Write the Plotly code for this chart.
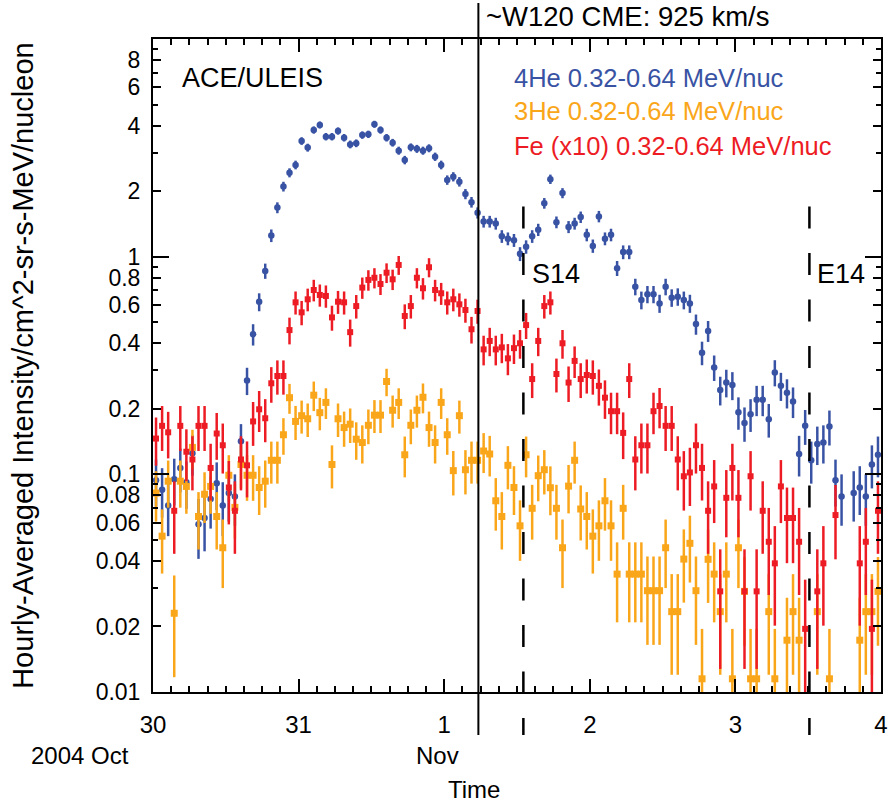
import plotly.graph_objects as go
import pandas as pd

# hourly bins starting 2004-10-30 00:30
times = pd.date_range("2004-10-30 00:30", periods=120, freq="h")

he4 = [0.094, 0.085, 0.072, 0.095, 0.107, 0.092, 0.125, 0.059, 0.063, 0.077,
       0.091, 0.072, 0.082, 0.079, 0.142, 0.27, 0.44, 0.62, 0.86, 1.25,
       1.68, 2.10, 2.43, 2.64, 3.40, 3.17, 3.82, 4.03, 3.56, 3.56,
       3.78, 3.52, 3.28, 3.32, 3.62, 3.65, 4.06, 3.82, 3.52, 3.34,
       3.07, 2.78, 3.18, 3.13, 3.07, 3.15, 2.88, 2.64, 2.25, 2.33,
       2.21, 1.94, 1.78, 1.59, 1.45, 1.45, 1.42, 1.24, 1.21, 1.19,
       1.03, 1.11, 1.24, 1.33, 1.76, 2.27, 1.44, 1.96, 1.37, 1.42,
       1.52, 1.26, 1.12, 1.53, 1.21, 1.26, 0.885, 1.05, 1.05, 0.728,
       0.632, 0.672, 0.672, 0.61, 0.728, 0.648, 0.655, 0.632, 0.61, 0.49,
       0.362, 0.456, 0.31, 0.244, 0.264, 0.257, 0.193, 0.172, 0.189, 0.22,
       0.22, 0.179, 0.294, 0.255, 0.237, 0.216, 0.124, 0.167, 0.116, 0.138,
       0.14, 0.166, 0.094, 0.079, None, 0.082, 0.087, 0.079, 0.111, 0.123]

fe10 = [0.146, 0.167, 0.156, 0.068, 0.167, 0.127, 0.117, 0.167, 0.167, 0.107,
        0.154, 0.136, 0.087, 0.068, 0.117, 0.110, 0.175, 0.199, 0.181, 0.262,
        0.283, 0.283, 0.46, 0.617, 0.555, 0.637, 0.703, 0.667, 0.66, 0.526,
        0.621, 0.617, 0.45, 0.593, 0.721, 0.782, 0.80, 0.749, 0.844, 0.787,
        0.916, 0.534, 0.593, 0.80, 0.716, 0.894, 0.703, 0.679, 0.617, 0.637,
        0.604, 0.569, 0.464, 0.563, 0.375, 0.41, 0.375, 0.383, 0.341, 0.38,
        0.40, 0.485, 0.274, 0.41, 0.593, 0.617, 0.289, 0.40, 0.264, 0.332,
        0.274, 0.286, 0.283, 0.255, 0.225, 0.195, 0.195, 0.155, 0.274, 0.117,
        0.136, 0.136, 0.195, 0.206, 0.167, 0.167, 0.117, 0.098, 0.102, 0.136,
        0.107, 0.068, 0.088, 0.029, 0.078, 0.107, 0.078, 0.029, 0.098, 0.029,
        0.068, 0.049, 0.039, 0.088, 0.063, 0.063, 0.049, 0.0195, None, 0.029,
        0.039, None, 0.065, None, None, None, 0.039, 0.049, 0.0195, 0.068]

he3 = [0.082, 0.052, 0.093, 0.023, 0.093, 0.088, 0.133, 0.064, 0.081, 0.088,
       0.064, 0.046, 0.099, 0.0705, 0.111, 0.099, 0.099, 0.087, 0.093, 0.116,
       0.116, 0.152, 0.225, 0.175, 0.186, 0.18, 0.231, 0.192, 0.214, 0.111,
       0.18, 0.164, 0.17, 0.145, 0.14, 0.168, 0.187, 0.187, 0.267, 0.197,
       0.214, 0.123, 0.168, 0.197, 0.226, 0.164, 0.14, 0.214, 0.152, 0.104,
       0.186, 0.105, 0.116, 0.116, 0.128, 0.124, 0.0756, 0.064, 0.11, 0.087,
       0.058, 0.123, 0.0698, 0.0986, 0.105, 0.0868, 0.0698, 0.046, 0.0883, 0.116,
       0.0693, 0.064, 0.052, 0.058, 0.0756, 0.058, 0.0348, 0.0698, 0.0348, 0.0348,
       0.0348, 0.0292, 0.0292, 0.0292, 0.046, 0.0234, 0.0234, 0.0408, 0.0482, 0.0292,
       0.0115, 0.0407, 0.0348, 0.0234, 0.0348, 0.0115, 0.046, 0.029, 0.0115, 0.0115,
       None, 0.0234, 0.0115, None, 0.0173, 0.0234, 0.0173, None, None, 0.0234,
       None, 0.0115, None, None, None, None, 0.0173, 0.0234, 0.0234, 0.029]

# approximate counts per unit intensity (Poisson error model)
counts_per_unit = {"he4": 180.0, "he3": 180.0, "fe10": 110.0}

x_tickvals = ["2004-10-30", "2004-10-31", "2004-11-01", "2004-11-02", "2004-11-03", "2004-11-04"]
x_ticktext = ["30", "31", "1", "2", "3", "4"]
y_tickvals = [0.01, 0.02, 0.04, 0.06, 0.08, 0.1, 0.2, 0.4, 0.6, 0.8, 1, 2, 4, 6, 8]
y_ticktext = ["0.01", "0.02", "0.04", "0.06", "0.08", "0.1", "0.2", "0.4", "0.6", "0.8", "1", "2", "4", "6", "8"]
y_minor = [0.03, 0.05, 0.07, 0.09, 0.3, 0.5, 0.7, 0.9, 3, 5, 7, 9]
y_decades = [0.01, 0.1, 1, 10]

cme_time = "2004-11-01 05:38"
s14_time = "2004-11-01 13:03"
e14_time = "2004-11-03 12:12"

BLUE = "#3953a4"
ORANGE = "#faa61a"
RED = "#ed1c24"
FONT = "Liberation Sans, Arial, sans-serif"


def errs(vals, k):
    return [0 if v is None else (v / k) ** 0.5 for v in vals]


fig = go.Figure()
fig.add_trace(go.Scatter(
    x=times, y=he4, mode="markers", name="4He",
    marker=dict(symbol="circle", size=6.5, color=BLUE),
    error_y=dict(type="data", array=errs(he4, counts_per_unit["he4"]), color=BLUE, thickness=2.5, width=0),
))
fig.add_trace(go.Scatter(
    x=times, y=he3, mode="markers", name="3He",
    marker=dict(symbol="square", size=7, color=ORANGE),
    error_y=dict(type="data", array=errs(he3, counts_per_unit["he3"]), color=ORANGE, thickness=2.5, width=0),
))
fig.add_trace(go.Scatter(
    x=times, y=fe10, mode="markers", name="Fe",
    marker=dict(symbol="square", size=6, color=RED),
    error_y=dict(type="data", array=errs(fe10, counts_per_unit["fe10"]), color=RED, thickness=2.5, width=0),
))
# invisible trace to anchor decade-tick overlay axis
fig.add_trace(go.Scatter(x=[times[0]], y=[1], yaxis="y2", mode="markers",
                         marker=dict(opacity=0), hoverinfo="skip", showlegend=False))

fig.update_layout(
    width=889, height=806,
    margin=dict(l=153, r=8, t=39, b=114),
    paper_bgcolor="white", plot_bgcolor="white",
    showlegend=False,
    font=dict(family=FONT, size=23, color="black"),
    xaxis=dict(
        type="date", range=["2004-10-30", "2004-11-04"], automargin=False,
        tickmode="array", tickvals=x_tickvals, ticktext=x_ticktext,
        ticks="inside", ticklen=13, tickwidth=2, tickcolor="black",
        showline=True, linewidth=2, linecolor="black", mirror="ticks",
        showgrid=False, zeroline=False, ticklabelstandoff=10,
        tickfont=dict(size=24),
        minor=dict(ticks="inside", ticklen=6, tickwidth=2, tickcolor="black",
                   dtick=3 * 3600 * 1000, tick0="2004-10-30", showgrid=False),
    ),
    yaxis=dict(
        type="log", range=[-2, 1], automargin=False,
        tickmode="array", tickvals=y_tickvals, ticktext=y_ticktext,
        ticks="inside", ticklen=8, tickwidth=2, tickcolor="black",
        showline=True, linewidth=2, linecolor="black", mirror="ticks",
        showgrid=False, zeroline=False, ticklabelstandoff=6,
        tickfont=dict(size=23),
        minor=dict(ticks="inside", ticklen=5, tickwidth=2, tickcolor="black",
                   tickmode="array", tickvals=y_minor, showgrid=False),
    ),
    yaxis2=dict(
        type="log", range=[-2, 1], overlaying="y", side="left", automargin=False,
        tickmode="array", tickvals=y_decades, showticklabels=False,
        ticks="inside", ticklen=16, tickwidth=2, tickcolor="black",
        showline=False, mirror="ticks", showgrid=False, zeroline=False,
    ),
)

# vertical event lines
fig.add_shape(type="line", xref="x", yref="paper", x0=cme_time, x1=cme_time,
              y0=1.055, y1=-0.066, line=dict(color="black", width=2))
for t in (s14_time, e14_time):
    fig.add_shape(type="line", xref="x", yref="paper", x0=t, x1=t,
                  y0=0.7436, y1=-0.066, line=dict(color="black", width=2.5, dash="22px,24.5px"))

ann = [
    dict(text="~W120 CME: 925 km/s", x=0.455, y=1.034, xanchor="left", size=27.5, color="black"),
    dict(text="ACE/ULEIS", x=0.0375, y=0.9406, xanchor="left", size=27, color="black"),
    dict(text="4He 0.32-0.64 MeV/nuc", x=0.4935, y=0.9406, xanchor="left", size=25.5, color=BLUE),
    dict(text="3He 0.32-0.64 MeV/nuc", x=0.4935, y=0.890, xanchor="left", size=25.5, color=ORANGE),
    dict(text="Fe (x10) 0.32-0.64 MeV/nuc", x=0.4935, y=0.836, xanchor="left", size=25.5, color=RED),
    dict(text="S14", x=0.518, y=0.640, xanchor="left", size=27, color="black"),
    dict(text="E14", x=0.9098, y=0.640, xanchor="left", size=27, color="black"),
    dict(text="2004 Oct", x=-0.10, y=-0.0965, xanchor="center", size=24, color="black"),
    dict(text="Nov", x=0.391, y=-0.0965, xanchor="center", size=24, color="black"),
    dict(text="Time", x=0.4416, y=-0.150, xanchor="center", size=24, color="black"),
]
for a in ann:
    fig.add_annotation(text=a["text"], xref="paper", yref="paper", x=a["x"], y=a["y"],
                       xanchor=a["xanchor"], yanchor="middle", showarrow=False,
                       font=dict(family=FONT, size=a["size"], color=a["color"]))

fig.add_annotation(text="Hourly-Averaged Intensity/cm^2-sr-s-MeV/nucleon", xref="paper", yref="paper",
                   x=-0.1795, y=0.5, xanchor="center", yanchor="middle", textangle=-90,
                   showarrow=False, font=dict(family=FONT, size=29, color="black"))

fig.write_html("out.html", config={"displayModeBar": False},
               post_script="document.body.style.margin='0px';")
